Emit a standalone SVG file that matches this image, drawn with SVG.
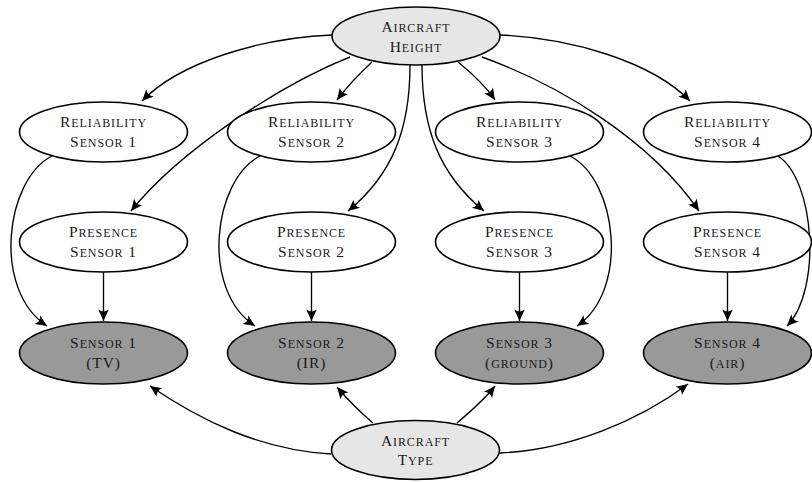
<svg xmlns="http://www.w3.org/2000/svg" width="812" height="482" viewBox="0 0 812 482">
<style>
  .n { stroke: #000; stroke-width: 1.6; }
  .plain { fill: #fff; }
  .obs { fill: #999; }
  .ctx { fill: #e6e6e6; }
  text { font-family: "Liberation Serif", "Times New Roman", serif; font-size: 15.5px; font-variant: small-caps; letter-spacing: 0.9px; fill: #1a1a1a; text-anchor: middle; }
  .s { font-size: 17.5px; }
  .e path { fill: none; stroke: #000; stroke-width: 1.35; marker-end: url(#ah); }
</style>
<defs>
  <marker id="ah" markerUnits="userSpaceOnUse" markerWidth="14" markerHeight="12" viewBox="-12 -6 14 12" refX="0" refY="0" orient="auto">
    <path d="M0,0 L-11.5,-5.2 Q-7.5,0 -11.5,5.2 Z" fill="#000"/>
  </marker>
</defs>
<rect width="812" height="482" fill="#fff"/>

<g class="e" id="edges">
  <path d="M332,35 C260,38 180,62 142,101"/>
  <path d="M372,62 C358,75 346,88 337,100"/>
  <path d="M458,62 C474,75 487,88 495,100"/>
  <path d="M500,35 C572,38 652,62 690,101"/>
  <path d="M350,57 C280,85 180,150 131,211"/>
  <path d="M410,65 C410,130 392,175 348,211"/>
  <path d="M422,65 C422,130 440,175 484,211"/>
  <path d="M482,57 C560,85 650,140 699,211"/>
  <path d="M52,156 C5,180 -8,290 47,326"/>
  <path d="M260,156 C213,180 200,290 255,326"/>
  <path d="M570,156 C617,180 630,290 577,326"/>
  <path d="M778,156 C815,180 822,290 787,326"/>
  <path d="M103.5,272 L103.5,321"/>
  <path d="M311.5,272 L311.5,321"/>
  <path d="M519.5,272 L519.5,321"/>
  <path d="M727.5,272 L727.5,321"/>
  <path d="M331,454 C260,450 200,420 150,386"/>
  <path d="M373,423 C360,412 348,400 337,387"/>
  <path d="M457,423 C470,412 484,400 495,386"/>
  <path d="M500,453 C570,450 640,420 688,384"/>
</g>

<g id="aircraft-height"><ellipse class="n ctx" cx="416" cy="36" rx="84" ry="29"/><text x="416" y="32">A<tspan class="s">ircraft</tspan></text><text x="416" y="51.5">H<tspan class="s">eight</tspan></text></g>

<g id="reliability-1"><ellipse class="n plain" cx="103.5" cy="132" rx="84" ry="30"/><text x="103.5" y="127">R<tspan class="s">eliability</tspan></text><text x="103.5" y="146.5">S<tspan class="s">ensor</tspan> 1</text></g>
<g id="reliability-2"><ellipse class="n plain" cx="311.5" cy="132" rx="84" ry="30"/><text x="311.5" y="127">R<tspan class="s">eliability</tspan></text><text x="311.5" y="146.5">S<tspan class="s">ensor</tspan> 2</text></g>
<g id="reliability-3"><ellipse class="n plain" cx="519.5" cy="132" rx="84" ry="30"/><text x="519.5" y="127">R<tspan class="s">eliability</tspan></text><text x="519.5" y="146.5">S<tspan class="s">ensor</tspan> 3</text></g>
<g id="reliability-4"><ellipse class="n plain" cx="727.5" cy="132" rx="84" ry="30"/><text x="727.5" y="127">R<tspan class="s">eliability</tspan></text><text x="727.5" y="146.5">S<tspan class="s">ensor</tspan> 4</text></g>

<g id="presence-1"><ellipse class="n plain" cx="103.5" cy="242" rx="84" ry="30"/><text x="103.5" y="237">P<tspan class="s">resence</tspan></text><text x="103.5" y="256.5">S<tspan class="s">ensor</tspan> 1</text></g>
<g id="presence-2"><ellipse class="n plain" cx="311.5" cy="242" rx="84" ry="30"/><text x="311.5" y="237">P<tspan class="s">resence</tspan></text><text x="311.5" y="256.5">S<tspan class="s">ensor</tspan> 2</text></g>
<g id="presence-3"><ellipse class="n plain" cx="519.5" cy="242" rx="84" ry="30"/><text x="519.5" y="237">P<tspan class="s">resence</tspan></text><text x="519.5" y="256.5">S<tspan class="s">ensor</tspan> 3</text></g>
<g id="presence-4"><ellipse class="n plain" cx="727.5" cy="242" rx="84" ry="30"/><text x="727.5" y="237">P<tspan class="s">resence</tspan></text><text x="727.5" y="256.5">S<tspan class="s">ensor</tspan> 4</text></g>

<g id="sensor-1"><ellipse class="n obs" cx="103.5" cy="353" rx="84" ry="31"/><text x="103.5" y="348">S<tspan class="s">ensor</tspan> 1</text><text x="103.5" y="367.5">(TV)</text></g>
<g id="sensor-2"><ellipse class="n obs" cx="311.5" cy="353" rx="84" ry="31"/><text x="311.5" y="348">S<tspan class="s">ensor</tspan> 2</text><text x="311.5" y="367.5">(IR)</text></g>
<g id="sensor-3"><ellipse class="n obs" cx="519.5" cy="353" rx="84" ry="31"/><text x="519.5" y="348">S<tspan class="s">ensor</tspan> 3</text><text x="519.5" y="367.5">(<tspan class="s">ground</tspan>)</text></g>
<g id="sensor-4"><ellipse class="n obs" cx="727.5" cy="353" rx="84" ry="31"/><text x="727.5" y="348">S<tspan class="s">ensor</tspan> 4</text><text x="727.5" y="367.5">(<tspan class="s">air</tspan>)</text></g>

<g id="aircraft-type"><ellipse class="n ctx" cx="415.5" cy="450" rx="84" ry="29.5"/><text x="415.5" y="445.5">A<tspan class="s">ircraft</tspan></text><text x="415.5" y="465">T<tspan class="s">ype</tspan></text></g>
</svg>
